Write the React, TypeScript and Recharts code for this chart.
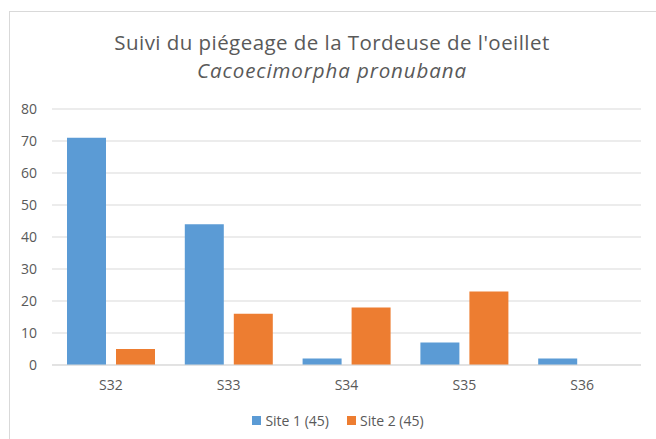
import { BarChart, Bar, XAxis, YAxis, CartesianGrid, Legend } from 'recharts';

const weeks = ['S32', 'S33', 'S34', 'S35', 'S36'];
const site1 = [71, 44, 2, 7, 2];
const site2 = [5, 16, 18, 23, 0];
const yTicks = [0, 10, 20, 30, 40, 50, 60, 70, 80];

const series = [
  { key: 'site1', name: 'Site 1 (45)', color: '#5b9bd5' },
  { key: 'site2', name: 'Site 2 (45)', color: '#ed7d31' },
];

const data = weeks.map((w, i) => ({ week: w, site1: site1[i], site2: site2[i] }));

const font = '"Open Sans", sans-serif';
const textColor = '#595959';

const LegendContent = () => (
  <div style={{ display: 'flex', justifyContent: 'center', alignItems: 'center', fontSize: 14, fontFamily: font, color: textColor }}>
    {series.map((s, i) => (
      <div key={s.key} style={{ display: 'flex', alignItems: 'center', marginLeft: i ? 18 : 0 }}>
        <span style={{ width: 9, height: 9, background: s.color, display: 'inline-block', marginRight: 4 }} />
        <span>{s.name}</span>
      </div>
    ))}
  </div>
);

export default function App() {
  return (
    <div style={{ position: 'absolute', left: 0, top: 0, width: 656, height: 439, background: '#fff', fontFamily: font }}>
      <div style={{ position: 'absolute', left: 9, top: 11, width: 660, height: 440, border: '1px solid #d9d9d9' }} />
      <div style={{ position: 'absolute', left: 0, top: 28, width: 664, textAlign: 'center', color: textColor }}>
        <div style={{ fontSize: 20.5, lineHeight: '28px', letterSpacing: 0.45 }}>Suivi du piégeage de la Tordeuse de l'oeillet</div>
        <div style={{ fontSize: 20.5, lineHeight: '28px', letterSpacing: 0.9, fontStyle: 'italic' }}>Cacoecimorpha pronubana</div>
      </div>
      <BarChart
        width={656}
        height={439}
        data={data}
        margin={{ top: 109, right: 15, left: 12, bottom: 8 }}
        barCategoryGap={15}
        barGap={10}
        style={{ position: 'absolute', left: 0, top: 0 }}
      >
        <CartesianGrid vertical={false} stroke="#d9d9d9" />
        <XAxis
          dataKey="week"
          axisLine={{ stroke: '#d9d9d9' }}
          tickLine={false}
          height={46}
          tickMargin={9}
          tick={{ fill: textColor, fontSize: 14, fontFamily: font }}
        />
        <YAxis
          domain={[0, 80]}
          ticks={yTicks}
          width={40}
          axisLine={false}
          tickLine={false}
          tickMargin={9}
          tick={{ fill: textColor, fontSize: 14, fontFamily: font }}
        />
        <Legend
          height={20}
          content={<LegendContent />}
          wrapperStyle={{ left: 0, width: 676 }}
        />
        {series.map((s) => (
          <Bar key={s.key} dataKey={s.key} name={s.name} fill={s.color} isAnimationActive={false} />
        ))}
      </BarChart>
    </div>
  );
}
